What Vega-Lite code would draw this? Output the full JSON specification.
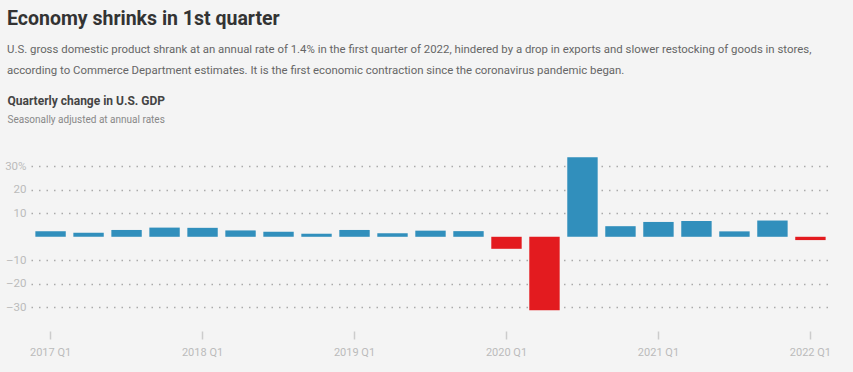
{
  "$schema": "https://vega.github.io/schema/vega-lite/v6.json",
  "autosize": "none",
  "width": 799,
  "height": 179,
  "padding": {"left": 31, "top": 152, "right": 23, "bottom": 41},
  "background": "#f4f4f4",
  "config": {
    "view": {"stroke": null},
    "font": "Roboto"
  },
  "title": {
    "text": "Economy shrinks in 1st quarter",
    "subtitle": [
      "U.S. gross domestic product shrank at an annual rate of 1.4% in the first quarter of 2022, hindered by a drop in exports and slower restocking of goods in stores,",
      "according to Commerce Department estimates. It is the first economic contraction since the coronavirus pandemic began."
    ],
    "anchor": "start",
    "frame": "group",
    "dx": -24,
    "offset": 17,
    "fontSize": 19.5,
    "fontWeight": "bold",
    "color": "#333333",
    "font": "Roboto",
    "subtitleFont": "Roboto",
    "subtitleFontSize": 11.4,
    "subtitleColor": "#666666",
    "subtitleLineHeight": 21,
    "subtitlePadding": 14
  },
  "data": {
    "values": [
      {"quarter": "2017 Q1", "value": 2.3},
      {"quarter": "2017 Q2", "value": 1.7},
      {"quarter": "2017 Q3", "value": 2.9},
      {"quarter": "2017 Q4", "value": 3.9},
      {"quarter": "2018 Q1", "value": 3.8},
      {"quarter": "2018 Q2", "value": 2.7},
      {"quarter": "2018 Q3", "value": 2.1},
      {"quarter": "2018 Q4", "value": 1.3},
      {"quarter": "2019 Q1", "value": 2.9},
      {"quarter": "2019 Q2", "value": 1.5},
      {"quarter": "2019 Q3", "value": 2.6},
      {"quarter": "2019 Q4", "value": 2.4},
      {"quarter": "2020 Q1", "value": -5.1},
      {"quarter": "2020 Q2", "value": -31.2},
      {"quarter": "2020 Q3", "value": 33.8},
      {"quarter": "2020 Q4", "value": 4.5},
      {"quarter": "2021 Q1", "value": 6.3},
      {"quarter": "2021 Q2", "value": 6.7},
      {"quarter": "2021 Q3", "value": 2.3},
      {"quarter": "2021 Q4", "value": 6.9},
      {"quarter": "2022 Q1", "value": -1.4}
    ]
  },
  "encoding": {
    "x": {
      "field": "quarter",
      "type": "ordinal",
      "sort": null,
      "scale": {"paddingInner": 0.2, "paddingOuter": 0.115},
      "axis": {
        "title": "Seasonally adjusted at annual rates",
        "titleX": -24,
        "titleY": -209,
        "titleAlign": "left",
        "titleBaseline": "alphabetic",
        "titleFontSize": 10,
        "titleFontWeight": "normal",
        "titleColor": "#888888",
        "values": ["2017 Q1", "2018 Q1", "2019 Q1", "2020 Q1", "2021 Q1", "2022 Q1"],
        "labelAngle": 0,
        "labelFontSize": 11,
        "labelColor": "#bbbbbb",
        "labelPadding": 7,
        "labelOverlap": false,
        "tickSize": 8,
        "tickColor": "#cccccc",
        "tickWidth": 1.5,
        "domain": false,
        "grid": false
      }
    }
  },
  "layer": [
    {
      "mark": {"type": "bar"},
      "encoding": {
        "y": {
          "field": "value",
          "type": "quantitative",
          "scale": {"domain": [-40, 36], "nice": false, "zero": false},
          "axis": {
            "title": "Quarterly change in U.S. GDP",
            "titleAngle": 0,
            "titleX": -24,
            "titleY": -48,
            "titleAlign": "left",
            "titleBaseline": "alphabetic",
            "titleFontSize": 12,
            "titleFontWeight": "bold",
            "titleColor": "#444444",
            "values": [-30, -20, -10, 10, 20, 30],
            "tickCount": 20,
            "labelExpr": "datum.value == 30 ? '30%' : (datum.value < 0 ? '–' + abs(datum.value) : datum.label)",
            "labelFontSize": 11.5,
            "labelColor": "#bbbbbb",
            "labelPadding": 5,
            "labelOverlap": false,
            "ticks": false,
            "domain": false,
            "grid": true,
            "gridColor": "#aaaaaa",
            "gridDash": [1.5, 6],
            "gridWidth": 1.5
          }
        },
        "color": {
          "condition": {"test": "datum.value < 0", "value": "#e31b1f"},
          "value": "#318fbc"
        }
      }
    },
    {
      "mark": {"type": "rule", "color": "#d4d4d4", "strokeWidth": 2},
      "encoding": {"y": {"datum": 0}}
    }
  ]
}
